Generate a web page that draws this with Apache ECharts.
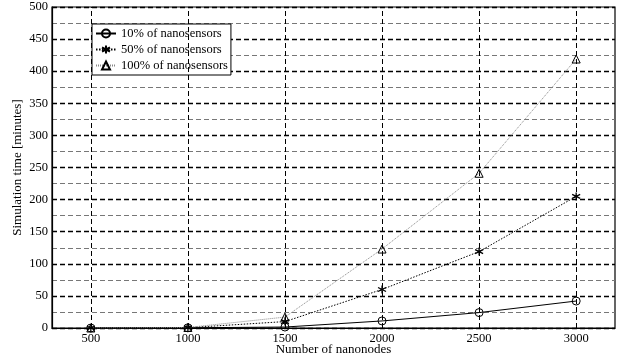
<!DOCTYPE html>
<html>
<head>
<meta charset="utf-8">
<script src="https://cdn.jsdelivr.net/npm/echarts@6/dist/echarts.min.js"></script>
<style>html,body{margin:0;padding:0;background:#fff;}#c{width:621px;height:356px;}</style>
</head>
<body>
<div id="c"></div>
<script>
const nodes = [500, 1000, 1500, 2000, 2500, 3000];
const s10 = [0, 0.3, 1.5, 11, 24, 42];
const s50 = [0, 0.5, 10, 60, 119, 205];
const s100 = [0, 0.8, 17, 123, 241, 419];
const seriesNames = ['10% of nanosensors', '50% of nanosensors', '100% of nanosensors'];
const xTicks = [500, 1000, 1500, 2000, 2500, 3000];

const font = 'Liberation Serif';
const asterisk = 'path://M5,0 L5,10 M0.7,2.5 L9.3,7.5 M9.3,2.5 L0.7,7.5';
const pairs = (ys) => nodes.map((x, i) => [x, ys[i]]);

const chart = echarts.init(document.getElementById('c'));
chart.setOption({
  animation: false,
  backgroundColor: '#fff',
  textStyle: { fontFamily: font },
  grid: { left: 52, right: 6, top: 7, bottom: 28, show: true, borderColor: '#000', borderWidth: 1.2, backgroundColor: 'transparent', outerBoundsMode: 'none', containLabel: false },
  legend: {
    orient: 'vertical', left: 92, top: 24,
    backgroundColor: '#fff', borderColor: '#000', borderWidth: 1,
    padding: [3, 3, 3, 3], itemGap: 3, itemWidth: 20, itemHeight: 10,
    textStyle: { fontFamily: font, fontSize: 12.5, color: '#000' },
    data: seriesNames
  },
  xAxis: {
    type: 'value', min: 300, max: 3200,
    name: 'Number of nanonodes', nameLocation: 'middle', nameGap: 15, nameMoveOverlap: false,
    nameTextStyle: { fontFamily: font, fontSize: 13, color: '#000' },
    axisLine: { lineStyle: { color: '#000', width: 1.2 } },
    axisTick: { show: false },
    splitLine: { show: false },
    axisLabel: { customValues: xTicks, formatter: v => String(v), fontFamily: font, fontSize: 12.5, color: '#000', margin: 4 }
  },
  yAxis: {
    type: 'value', min: 0, max: 500, interval: 50,
    name: 'Simulation time [minutes]', nameLocation: 'middle', nameGap: 28, nameMoveOverlap: false,
    nameTextStyle: { fontFamily: font, fontSize: 13, color: '#000' },
    axisLine: { show: true, lineStyle: { color: '#000', width: 1.2 } },
    axisTick: { show: false },
    minorTick: { show: false, splitNumber: 2 },
    splitLine: { show: true, lineStyle: { color: '#000', type: [5, 3], width: 1.3 } },
    minorSplitLine: { show: true, lineStyle: { color: '#777', type: [5, 3], width: 1 } },
    axisLabel: { fontFamily: font, fontSize: 12.5, color: '#000', margin: 4 }
  },
  series: [
    {
      name: seriesNames[0], type: 'line', data: pairs(s10), z: 5,
      symbol: 'circle', symbolSize: 8,
      lineStyle: { color: '#000', width: 1 },
      itemStyle: { color: 'rgba(255,255,255,0)', borderColor: '#000', borderWidth: 1 },
      markLine: {
        silent: true, symbol: 'none', label: { show: false },
        lineStyle: { color: '#000', type: [5, 3], width: 1 },
        data: xTicks.map(v => ({ xAxis: v }))
      }
    },
    {
      name: seriesNames[1], type: 'line', data: pairs(s50), z: 5,
      symbol: asterisk, symbolSize: 8,
      lineStyle: { color: '#000', width: 1, type: [1.5, 1.5] },
      itemStyle: { color: 'rgba(0,0,0,0)', borderColor: '#000', borderWidth: 1.3 }
    },
    {
      name: seriesNames[2], type: 'line', data: pairs(s100), z: 5,
      symbol: 'triangle', symbolSize: 8,
      lineStyle: { color: '#888', width: 1, type: [1, 1] },
      itemStyle: { color: 'rgba(255,255,255,0)', borderColor: '#000', borderWidth: 1 }
    }
  ]
});
</script>
</body>
</html>
